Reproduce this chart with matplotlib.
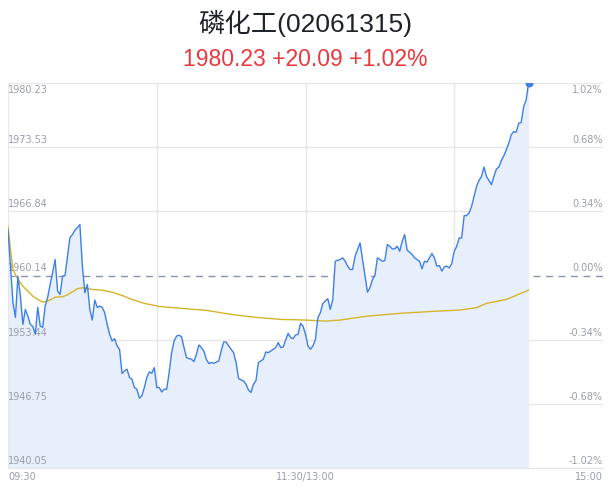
import matplotlib
matplotlib.use("Agg")
import matplotlib.pyplot as plt

plt.rcParams['font.family'] = ['Noto Sans CJK SC', 'DejaVu Sans']

title = "磷化工(02061315)"
subtitle = "1980.23 +20.09 +1.02%"
prev_close = 1960.14

# minutes since 09:30 (lunch break removed; 120 = 11:30/13:00)
price_min = [0, 2, 3, 4, 5, 6, 7, 8, 9, 10, 11, 12, 13, 14, 15, 16, 17, 18, 19, 20,
             21, 22, 23, 24, 25, 26, 27, 29, 30, 31, 32, 33, 34, 35, 36, 37, 38, 39, 40,
             41, 42, 43, 44, 45, 46, 47, 48, 49, 50, 51, 52, 53, 54, 55, 56, 57, 58, 59,
             60, 61, 62, 63, 64, 65, 66, 67, 68, 69, 70, 71, 72, 73, 74, 75, 76, 77, 78,
             79, 80, 81, 82, 83, 85, 86, 87, 88, 89, 91, 92, 93, 94, 95, 96, 97, 98, 99,
             100, 101, 102, 103, 104, 105, 106, 108, 109, 110, 111, 112, 113, 114, 115,
             116, 117, 118, 119, 120, 121, 122, 123, 124, 125, 126, 127, 128, 129, 130,
             131, 132, 133, 134, 135, 136, 137, 138, 139, 140, 141, 142, 143, 144, 145,
             146, 147, 148, 149, 150, 151, 152, 153, 154, 155, 156, 157, 158, 159, 160,
             161, 162, 163, 164, 165, 166, 167, 168, 169, 170, 171, 172, 173, 174, 175,
             176, 177, 178, 179, 180, 181, 182, 183, 184, 185, 186, 187, 188, 189, 190,
             191, 192, 193, 194, 195, 196, 197, 198, 199, 200, 201, 202, 203, 204, 205,
             206, 207, 208, 209, 210]
price = [1964.90, 1957.30, 1955.77, 1960.07, 1957.99, 1955.04, 1956.60, 1955.90, 1955.04,
         1954.83, 1954.00, 1956.81, 1954.86, 1954.73, 1956.95, 1957.85, 1959.20, 1960.45,
         1961.81, 1958.51, 1958.16, 1960.07, 1960.14, 1962.15, 1964.10, 1964.41, 1964.86,
         1965.45, 1961.11, 1958.34, 1959.20, 1956.60, 1955.49, 1957.57, 1956.81, 1956.95,
         1956.81, 1956.26, 1955.04, 1954.00, 1953.30, 1953.55, 1952.78, 1952.44, 1949.91,
         1950.18, 1950.36, 1949.49, 1949.32, 1948.45, 1948.27, 1947.34, 1947.58, 1948.45,
         1949.49, 1950.08, 1949.94, 1950.53, 1948.45, 1948.45, 1947.99, 1948.27, 1948.27,
         1950.01, 1952.09, 1953.30, 1953.82, 1953.90, 1953.76, 1952.62, 1951.57, 1951.47,
         1951.40, 1951.16, 1951.92, 1952.89, 1952.62, 1952.26, 1951.40, 1950.95, 1951.05,
         1950.98, 1951.22, 1952.26, 1953.20, 1953.20, 1952.78, 1952.09, 1951.05, 1949.39,
         1949.24, 1949.14, 1948.79, 1948.20, 1947.93, 1948.79, 1949.14, 1951.05, 1951.22,
         1951.40, 1952.16, 1952.09, 1952.26, 1952.62, 1953.14, 1952.62, 1952.68, 1953.41,
         1954.10, 1953.66, 1953.55, 1953.93, 1954.00, 1955.14, 1954.86, 1954.00, 1952.78,
         1952.44, 1952.78, 1953.48, 1955.74, 1956.26, 1957.23, 1957.47, 1957.72, 1956.60,
         1957.64, 1961.63, 1961.73, 1961.81, 1961.98, 1961.63, 1961.11, 1960.77, 1960.77,
         1962.15, 1962.85, 1963.54, 1961.81, 1960.07, 1958.40, 1958.86, 1959.72, 1960.14,
         1961.98, 1961.81, 1961.63, 1961.70, 1963.37, 1963.19, 1962.92, 1962.92, 1963.19,
         1962.67, 1963.71, 1964.41, 1962.77, 1962.57, 1962.33, 1961.98, 1961.81, 1961.63,
         1960.84, 1961.63, 1961.53, 1961.98, 1962.43, 1961.98, 1961.11, 1961.18, 1960.59,
         1961.05, 1961.11, 1960.94, 1961.39, 1962.67, 1963.19, 1964.06, 1964.06, 1966.39,
         1966.39, 1966.67, 1967.35, 1968.39, 1969.44, 1970.06, 1970.48, 1971.46, 1970.48,
         1970.06, 1969.61, 1970.48, 1971.25, 1971.46, 1972.14, 1972.63, 1973.26, 1973.95,
         1974.82, 1975.16, 1975.10, 1976.04, 1976.10, 1977.76, 1978.46, 1980.23]

avg_min = [0, 1, 2, 3, 4, 6, 8, 10, 12, 14, 16, 18, 19, 22, 24, 26, 28, 30, 32, 34, 38,
           42, 46, 50, 55, 59, 61, 70, 80, 90, 100, 110, 120, 128, 134, 145, 158, 171,
           182, 189, 193, 201, 210]
avg = [1965.27, 1962.85, 1960.77, 1960.24, 1959.72, 1959.03, 1958.51, 1957.99, 1957.64,
       1957.36, 1957.47, 1957.72, 1957.88, 1957.92, 1958.13, 1958.44, 1958.76, 1958.86,
       1958.79, 1958.68, 1958.61, 1958.40, 1958.06, 1957.64, 1957.23, 1957.02, 1956.91,
       1956.71, 1956.50, 1956.08, 1955.77, 1955.56, 1955.49, 1955.38, 1955.49, 1955.90,
       1956.19, 1956.39, 1956.53, 1956.78, 1957.23, 1957.64, 1958.61]

left_ticks = [1940.05, 1946.75, 1953.44, 1960.14, 1966.84, 1973.53, 1980.23]
right_labels = ["-1.02%", "-0.68%", "-0.34%", "0.00%", "0.34%", "0.68%", "1.02%"]
x_ticks = [0, 120, 240]
x_labels = ["09:30", "11:30/13:00", "15:00"]

fig = plt.figure(figsize=(6.11, 4.92), dpi=100)
ax = fig.add_axes([8 / 611, 24 / 492, 595 / 611, 385 / 492])
ymin, ymax = left_ticks[0], left_ticks[-1]
ax.set_xlim(0, 240)
ax.set_ylim(ymin, ymax)

grid_c = '#e6e7ec'
lab_c = '#9a9eab'
for i, v in enumerate(left_ticks):
    if v == prev_close:
        ax.axhline(v, color='#8a93ad', lw=1, ls=(0, (5, 4)), zorder=1)
    else:
        ax.axhline(v, color=grid_c, lw=1, zorder=1)
    va = 'top' if i == len(left_ticks) - 1 else 'bottom'
    off = -1.5 if va == 'top' else 1.5
    ax.annotate(f"{v:.2f}", (0, v), xytext=(0, off), textcoords='offset points',
                ha='left', va=va, fontsize=7, color=lab_c, family='DejaVu Sans')
    ax.annotate(right_labels[i], (240, v), xytext=(0, off), textcoords='offset points',
                ha='right', va=va, fontsize=7, color=lab_c, family='DejaVu Sans')
for t in (60, 120, 180):
    ax.axvline(t, color=grid_c, lw=1, zorder=1)

ax.fill_between(price_min, price, ymin, color='#e8effc', zorder=2, lw=0)
ax.plot(price_min, price, color='#3d7fe9', lw=1, zorder=4)
ax.plot(avg_min, avg, color='#d5b42a', lw=1, zorder=3)
ax.scatter([price_min[-1]], [price[-1]], s=22, color='#3d7fe9', zorder=5, clip_on=True)

for s in ('top', 'right'):
    ax.spines[s].set_visible(False)
ax.spines['left'].set_color(grid_c)
ax.spines['bottom'].set_color(grid_c)
ax.set_yticks([])
ax.set_xticks(x_ticks)
ax.set_xticklabels(x_labels, fontsize=7, color=lab_c, family='DejaVu Sans')
ax.tick_params(axis='x', length=0, pad=3)
tl = ax.get_xticklabels()
tl[0].set_ha('left')
tl[-1].set_ha('right')

fig.text(0.5, 1 - 23 / 492, title, ha='center', va='center', fontsize=19, color='#1f2329',
         family=['Liberation Sans', 'Noto Sans CJK SC'])
fig.text(0.5, 1 - 60 / 492, subtitle, ha='center', va='center', fontsize=16.5,
         color='#e8393f', family=['Liberation Sans', 'DejaVu Sans'])

fig.savefig('out.png', dpi=100)
